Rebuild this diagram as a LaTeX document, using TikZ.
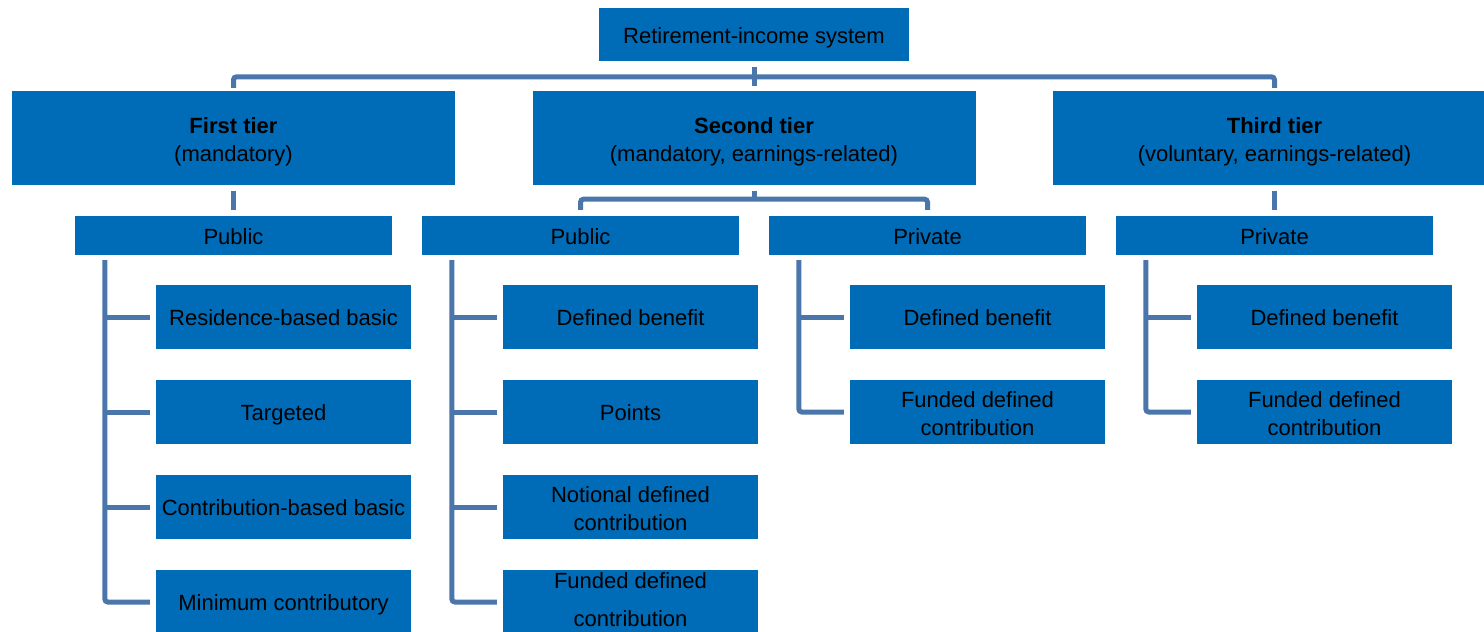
\documentclass[tikz,border=0pt]{standalone}
\usepackage{fontspec}
\setmainfont{Liberation Sans}
\usetikzlibrary{calc}
\definecolor{boxblue}{HTML}{006BB6}
\definecolor{linkblue}{HTML}{4A76AC}
\newcommand\mystrut{\rule[-5pt]{0pt}{27pt}}
\newcommand\mytallstrut{\rule[-5pt]{0pt}{28pt}}
\begin{document}
\begin{tikzpicture}[x=1pt,y=-1pt,
  every node/.style={font=\fontsize{22}{28}\selectfont, text=black, align=center, inner sep=0pt,
    execute at begin node=\mystrut, execute at end node=\mystrut},
  bluebox/.style={fill=boxblue, draw=none},
  topbox/.style={bluebox, minimum width=310pt, minimum height=53pt},
  tierbox/.style={bluebox, minimum width=443pt, minimum height=94pt},
  subbox/.style={bluebox, minimum width=317pt, minimum height=39pt},
  leafbox/.style={bluebox, minimum width=255pt, minimum height=64pt},
  conn/.style={draw=linkblue, line width=5pt, rounded corners=3pt}
]
\useasboundingbox (0,0) rectangle (1484,632);

% top
\node[topbox] (top) at (754,34.5) {Retirement-income system};

% tiers
\node[tierbox] (t1) at (233.5,138) {\mytallstrut\textbf{First tier}\\(mandatory)};
\node[tierbox] (t2) at (754,138) {\mytallstrut\textbf{Second tier}\\(mandatory, earnings-related)};
\node[tierbox] (t3) at (1274.5,138) {\mytallstrut\textbf{Third tier}\\(voluntary, earnings-related)};

% sub boxes
\node[subbox] (p1) at (233.5,235.5) {Public};
\node[subbox] (p2) at (580.5,235.5) {Public};
\node[subbox] (q2) at (927.5,235.5) {Private};
\node[subbox] (q3) at (1274.5,235.5) {Private};

% leaves column 1
\node[leafbox] (a1) at (283.5,317) {Residence-based basic};
\node[leafbox] (a2) at (283.5,412) {Targeted};
\node[leafbox] (a3) at (283.5,507) {Contribution-based basic};
\node[leafbox] (a4) at (283.5,602) {Minimum contributory};

% leaves column 2
\node[leafbox] (b1) at (630.5,317) {Defined benefit};
\node[leafbox] (b2) at (630.5,412) {Points};
\node[leafbox] (b3) at (630.5,507) {\mytallstrut Notional defined\\contribution};
\node[leafbox] (b4) at (630.5,602) {Funded defined\\[10pt]contribution};

% leaves column 3
\node[leafbox] (c1) at (977.5,317) {Defined benefit};
\node[leafbox] (c2) at (977.5,412) {\mytallstrut Funded defined\\contribution};

% leaves column 4
\node[leafbox] (d1) at (1324.5,317) {Defined benefit};
\node[leafbox] (d2) at (1324.5,412) {\mytallstrut Funded defined\\contribution};

% top connectors
\draw[conn] ($(top.south)+(0,6)$) -- ($(t2.north)+(0,-5)$);
\draw[conn] ($(t1.north)+(0,-3)$) |- ($(t2.north)+(0,-14)$) -| ($(t3.north)+(0,-3)$);

% tier to sub
\draw[conn] ($(t1.south)+(0,6)$) -- ($(p1.north)+(0,-6)$);
\draw[conn] ($(t3.south)+(0,6)$) -- ($(q3.north)+(0,-6)$);
\draw[conn] ($(t2.south)+(0,6)$) -- ($(t2.south)+(0,14)$);
\draw[conn] ($(p2.north)+(0,-6)$) |- ($(t2.south)+(0,14)$) -| ($(q2.north)+(0,-6)$);

% spines
\coordinate (s1) at ($(p1.south west)+(30,5)$);
\coordinate (s2) at ($(p2.south west)+(30,5)$);
\coordinate (s3) at ($(q2.south west)+(30,5)$);
\coordinate (s4) at ($(q3.south west)+(30,5)$);

\draw[conn] (s1) |- ($(a4.west)+(-6,0)$);
\draw[conn] ($(a1.west)+(-6,0)$) -- (s1 |- a1.west);
\draw[conn] ($(a2.west)+(-6,0)$) -- (s1 |- a2.west);
\draw[conn] ($(a3.west)+(-6,0)$) -- (s1 |- a3.west);

\draw[conn] (s2) |- ($(b4.west)+(-6,0)$);
\draw[conn] ($(b1.west)+(-6,0)$) -- (s2 |- b1.west);
\draw[conn] ($(b2.west)+(-6,0)$) -- (s2 |- b2.west);
\draw[conn] ($(b3.west)+(-6,0)$) -- (s2 |- b3.west);

\draw[conn] (s3) |- ($(c2.west)+(-6,0)$);
\draw[conn] ($(c1.west)+(-6,0)$) -- (s3 |- c1.west);

\draw[conn] (s4) |- ($(d2.west)+(-6,0)$);
\draw[conn] ($(d1.west)+(-6,0)$) -- (s4 |- d1.west);
\end{tikzpicture}
\end{document}
